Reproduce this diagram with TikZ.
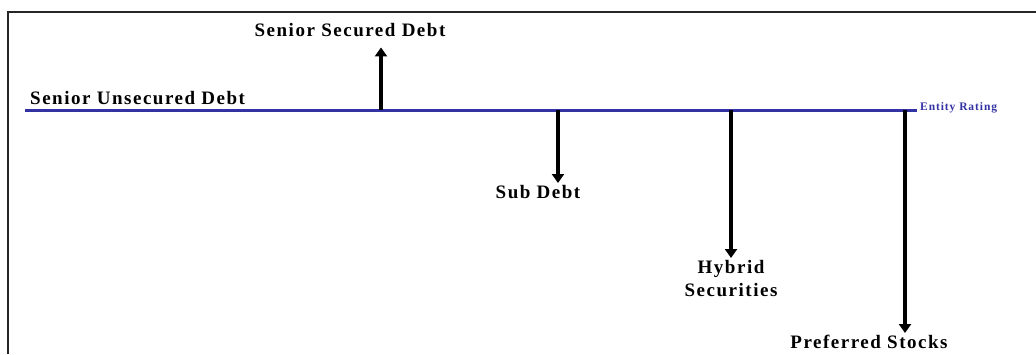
\documentclass[tikz,border=0pt]{standalone}
\usepackage{fontspec}
\setmainfont{Liberation Serif}[LetterSpace=8]
\usetikzlibrary{arrows.meta,calc}
\definecolor{ratingblue}{RGB}{50,50,165}

\begin{document}
\begin{tikzpicture}[
    x=1pt,y=-1pt,
    font=\fontsize{19}{23}\selectfont\bfseries,
    lbl/.style={inner sep=0pt,align=center},
    arr/.style={-{Triangle[width=12pt,length=9pt]},line width=3.4pt},
    rating/.style={draw=ratingblue,line width=3pt}
  ]
    \useasboundingbox (0,0) rectangle (1036,354);
    % frame
    \draw[black!85,line width=2.2pt] (8,354) -- (8,12) -- (1036,12);

    % entity rating line
    \coordinate (lineL) at (25,110);
    \coordinate (lineR) at (917,110);
    \draw[rating] (lineL) -- (lineR);
    \node[anchor=west,inner sep=3pt,text=ratingblue,font=\fontsize{11.5}{13}\selectfont\bfseries] (ent) at ($(lineR)+(0,-2)$) {Entity Rating};
    \node[lbl,anchor=base west] (unsec) at (30,104) {Senior Unsecured Debt};

    % classes
    \coordinate (p1) at (381,110);
    \coordinate (p2) at (558,110);
    \coordinate (p3) at (731,110);
    \coordinate (p4) at (905,110);

    \node[lbl,anchor=base] (sec) at (350,36) {Senior Secured Debt};
    \node[lbl,anchor=north] (sub) at (538,185) {Sub Debt};
    \node[lbl,anchor=north] (hyb) at (731,260) {Hybrid\\Securities};
    \node[lbl,anchor=north] (pref) at (869,335) {Preferred Stocks};

    \draw[arr] (p1) -- ($(p1 |- sec.south)+(0,11)$);
    \draw[arr] (p2) -- ($(p2 |- sub.north)+(0,-2)$);
    \draw[arr] (p3) -- ($(p3 |- hyb.north)+(0,-2)$);
    \draw[arr] (p4) -- ($(p4 |- pref.north)+(0,-2)$);
  \end{tikzpicture}
\end{document}
